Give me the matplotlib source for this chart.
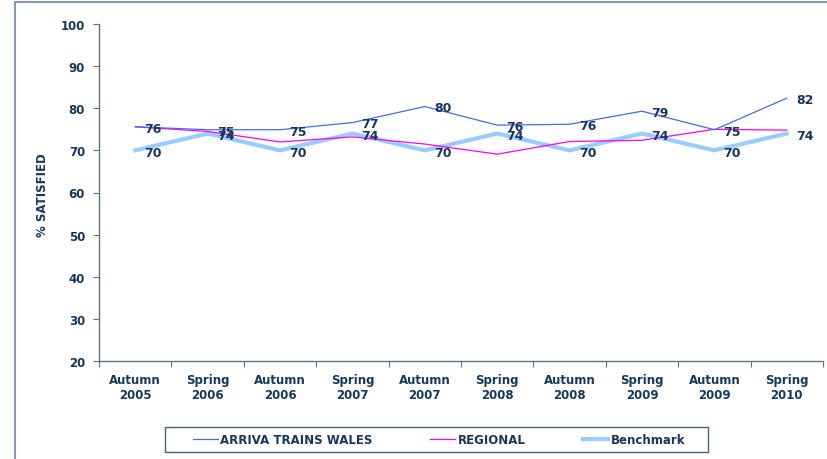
import numpy as np
import matplotlib
matplotlib.use("Agg")
import matplotlib.pyplot as plt
from matplotlib.lines import Line2D
from matplotlib.patches import Rectangle

# survey waves
periods = ["Autumn\n2005", "Spring\n2006", "Autumn\n2006", "Spring\n2007", "Autumn\n2007",
           "Spring\n2008", "Autumn\n2008", "Spring\n2009", "Autumn\n2009", "Spring\n2010"]

# % satisfied
arriva = [75.6, 74.9, 74.9, 76.6, 80.4, 76.0, 76.2, 79.3, 74.9, 82.4]
regional = [75.6, 74.5, 72.0, 73.2, 71.5, 69.1, 72.1, 72.4, 75.0, 74.8]
benchmark = [70, 74, 70, 74, 70, 74, 70, 74, 70, 74]

arriva_labels = [76, 75, 75, 77, 80, 76, 76, 79, 75, 82]
benchmark_labels = [70, 74, 70, 74, 70, 74, 70, 74, 70, 74]

navy = "#17375E"
axis_col = "#5E7282"
plt.rcParams["font.family"] = "DejaVu Sans"
plt.rcParams["font.weight"] = "bold"
fs = 8.5

W, H = 827, 460
fig = plt.figure(figsize=(W / 100, H / 100), dpi=100)
ax = fig.add_axes([99 / W, 1 - 362 / H, (823 - 99) / W, (362 - 25) / H])

x = np.arange(len(periods)) + 0.5
ax.plot(x, benchmark, color="#99CCFF", lw=3, label="Benchmark", zorder=2)
ax.plot(x, regional, color="#FF00FF", lw=0.9, label="REGIONAL", zorder=3)
ax.plot(x, arriva, color="#4A6AEA", lw=0.9, label="ARRIVA TRAINS WALES", zorder=4)

for xi, v, lab in zip(x, arriva, arriva_labels):
    ax.annotate(str(lab), (xi, v), xytext=(6.5, -1), textcoords="offset points",
                ha="left", va="center", fontsize=9, color=navy, fontweight="bold", zorder=5)
for xi, v, lab in zip(x, benchmark, benchmark_labels):
    ax.annotate(str(lab), (xi, v), xytext=(6.5, -1.5), textcoords="offset points",
                ha="left", va="center", fontsize=9, color=navy, fontweight="bold", zorder=5)

ax.set_xlim(0, len(periods))
ax.set_ylim(20, 100)
ax.set_yticks(range(20, 101, 10))
ax.set_xticks(np.arange(len(periods) + 1))
ax.set_xticklabels([])
ax.set_xticks(x, minor=True)
ax.set_xticklabels(periods, minor=True)
ax.tick_params(axis="x", which="minor", length=0, pad=9, labelsize=fs, labelcolor=navy)
ax.tick_params(axis="x", which="major", length=4, color=axis_col, direction="out")
ax.tick_params(axis="y", length=4, color=axis_col, pad=6, labelsize=fs, labelcolor=navy)
for lbl in ax.get_xticklabels(minor=True) + ax.get_yticklabels():
    lbl.set_fontweight("bold")

for s in ["top", "right"]:
    ax.spines[s].set_visible(False)
for s in ["left", "bottom"]:
    ax.spines[s].set_color(axis_col)
    ax.spines[s].set_linewidth(1)

fig.text(42 / W, 1 - 195 / H, "% SATISFIED", rotation=90, ha="center", va="center",
         fontsize=fs, color=navy, fontweight="bold")

# legend box drawn separately, entries placed inside it
fig.add_artist(Rectangle((165 / W, 1 - 453 / H), (708 - 165) / W, 25 / H,
                         transform=fig.transFigure, facecolor="white",
                         edgecolor="#4A6272", lw=1, zorder=1))
handles, labels = ax.get_legend_handles_labels()
order = [2, 1, 0]
leg = fig.legend([handles[i] for i in order], [labels[i] for i in order],
                 loc="center left", bbox_to_anchor=(193 / W, 1 - 440.5 / H), ncol=3,
                 frameon=False, fontsize=fs, handlelength=2.1, handletextpad=0.2,
                 columnspacing=4.9, borderpad=0, borderaxespad=0)
leg.set_zorder(2)
for t in leg.get_texts():
    t.set_color(navy)
    t.set_fontweight("bold")

# outer chart border (left and top edges visible)
border = "#8A9AA8"
fig.add_artist(Line2D([15 / W, 15 / W], [0, 1 - 3 / H], color=border, lw=1.5))
fig.add_artist(Line2D([15 / W, 1], [1 - 3 / H, 1 - 3 / H], color=border, lw=1.5))

fig.savefig("out.png", dpi=100)
